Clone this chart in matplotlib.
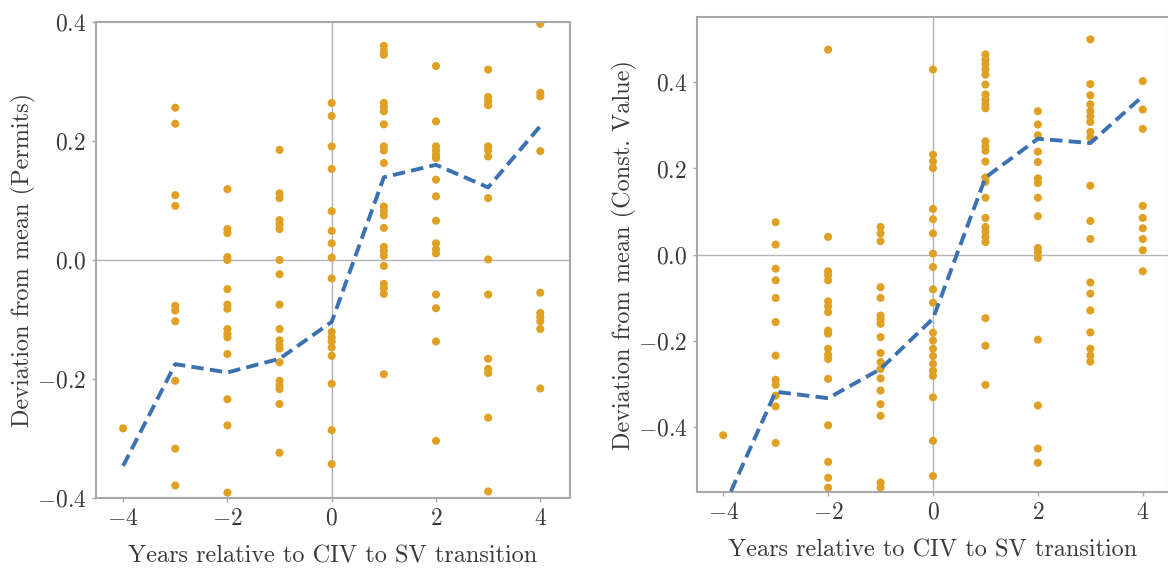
import numpy as np
import matplotlib
matplotlib.use("Agg")
import matplotlib.pyplot as plt

plt.rcParams['font.family'] = 'serif'
plt.rcParams['font.serif'] = ['cmr10']
plt.rcParams['mathtext.fontset'] = 'cm'
plt.rcParams['axes.formatter.use_mathtext'] = True

years = [-4, -3, -2, -1, 0, 1, 2, 3, 4]

permits = {
    -4: [-0.283],
    -3: [0.256, 0.229, 0.109, 0.091, -0.077, -0.085, -0.103, -0.203, -0.317, -0.379],
    -2: [0.119, 0.052, 0.045, 0.005, 0.0, -0.049, -0.075, -0.082, -0.116, -0.124,
         -0.130, -0.158, -0.234, -0.278, -0.391],
    -1: [0.185, 0.112, 0.104, 0.067, 0.060, 0.052, 0.0, -0.024, -0.075, -0.116,
         -0.135, -0.143, -0.149, -0.172, -0.203, -0.211, -0.217, -0.242, -0.324],
    0: [0.264, 0.242, 0.191, 0.153, 0.082, 0.049, 0.028, 0.004, -0.031, -0.121,
        -0.130, -0.137, -0.147, -0.161, -0.208, -0.286, -0.343],
    1: [0.360, 0.351, 0.345, 0.264, 0.257, 0.250, 0.228, 0.191, 0.184, 0.163,
        0.090, 0.082, 0.075, 0.054, 0.022, 0.015, 0.007, -0.010, -0.040, -0.047,
        -0.057, -0.192],
    2: [0.326, 0.233, 0.191, 0.184, 0.177, 0.171, 0.135, 0.107, 0.066, 0.028,
        0.018, 0.011, -0.058, -0.081, -0.137, -0.304],
    3: [0.320, 0.274, 0.267, 0.260, 0.191, 0.184, 0.174, 0.104, 0.001, -0.058,
        -0.166, -0.183, -0.190, -0.265, -0.389],
    4: [0.397, 0.281, 0.275, 0.183, -0.055, -0.089, -0.096, -0.103, -0.116, -0.216],
}
permits_mean = [-0.346, -0.175, -0.189, -0.166, -0.104, 0.139, 0.160, 0.122, 0.225]

const_value = {
    -4: [-0.420],
    -3: [0.075, 0.023, -0.033, -0.060, -0.101, -0.157, -0.235, -0.291, -0.303,
         -0.328, -0.353, -0.438],
    -2: [0.476, 0.041, -0.039, -0.048, -0.060, -0.109, -0.120, -0.134, -0.177,
         -0.184, -0.219, -0.233, -0.243, -0.289, -0.397, -0.482, -0.519, -0.542],
    -1: [0.064, 0.049, 0.031, -0.076, -0.101, -0.142, -0.151, -0.161, -0.192,
         -0.229, -0.250, -0.266, -0.288, -0.316, -0.348, -0.375, -0.530, -0.542],
    0: [0.430, 0.232, 0.216, 0.201, 0.106, 0.082, 0.049, 0.002, -0.029, -0.081,
        -0.112, -0.182, -0.200, -0.219, -0.236, -0.254, -0.270, -0.282, -0.332,
        -0.433, -0.515],
    1: [0.465, 0.453, 0.442, 0.430, 0.418, 0.395, 0.372, 0.360, 0.349, 0.340,
        0.263, 0.251, 0.241, 0.216, 0.179, 0.169, 0.132, 0.085, 0.064, 0.053,
        0.041, 0.029, -0.148, -0.212, -0.303],
    2: [0.333, 0.302, 0.277, 0.239, 0.215, 0.177, 0.166, 0.132, 0.089, 0.015,
        0.005, -0.008, -0.198, -0.351, -0.451, -0.484],
    3: [0.500, 0.396, 0.370, 0.349, 0.333, 0.321, 0.308, 0.285, 0.272, 0.160,
        0.078, 0.036, -0.065, -0.091, -0.130, -0.181, -0.219, -0.235, -0.249],
    4: [0.403, 0.337, 0.292, 0.113, 0.085, 0.061, 0.036, 0.010, -0.039],
}
const_mean = [-0.59, -0.319, -0.334, -0.266, -0.149, 0.179, 0.269, 0.259, 0.368]

xticks = [-4, -2, 0, 2, 4]
yticks = [-0.4, -0.2, 0.0, 0.2, 0.4]

dot_color = '#E0A023'
line_color = '#3B70B3'
frame_color = '#A8A8A8'
text_color = '#3A3A3A'

fig = plt.figure(figsize=(11.68, 5.69), dpi=100)
ax1 = fig.add_axes([96/1168, 1-498/569, 474/1168, 476/569])
ax2 = fig.add_axes([697/1168, 1-492/569, 472/1168, 475/569])


def draw(ax, data, means, ylabel, ylim, xlim):
    ax.axhline(0, color='#B5B5B5', lw=1.0, zorder=0)
    ax.axvline(0, color='#B5B5B5', lw=1.0, zorder=0)
    for yr in years:
        vals = data[yr]
        ax.scatter(np.full(len(vals), yr), vals, s=34, color=dot_color,
                   edgecolors='none', zorder=2)
    ax.plot(years, means, color=line_color, lw=2.8, ls=(0, (3.2, 1.6)), zorder=3)
    ax.set_xlim(*xlim)
    ax.set_ylim(*ylim)
    ax.set_xticks(xticks)
    ax.set_yticks(yticks)
    for sp in ax.spines.values():
        sp.set_color(frame_color)
        sp.set_linewidth(1.5)
    ax.tick_params(colors=frame_color, labelcolor=text_color, labelsize=17,
                   length=3, width=1.0, pad=4)
    ax.set_xlabel('Years relative to CIV to SV transition', fontsize=17.5,
                  color=text_color, labelpad=11)
    ax.set_ylabel(ylabel, fontsize=17.5, color=text_color, labelpad=0.5)


draw(ax1, permits, permits_mean, 'Deviation from mean (Permits)', (-0.4, 0.4), (-4.52, 4.57))
draw(ax2, const_value, const_mean, 'Deviation from mean (Const. Value)', (-0.552, 0.552), (-4.5, 4.5))

fig.savefig('out.png', dpi=100, facecolor='white')
